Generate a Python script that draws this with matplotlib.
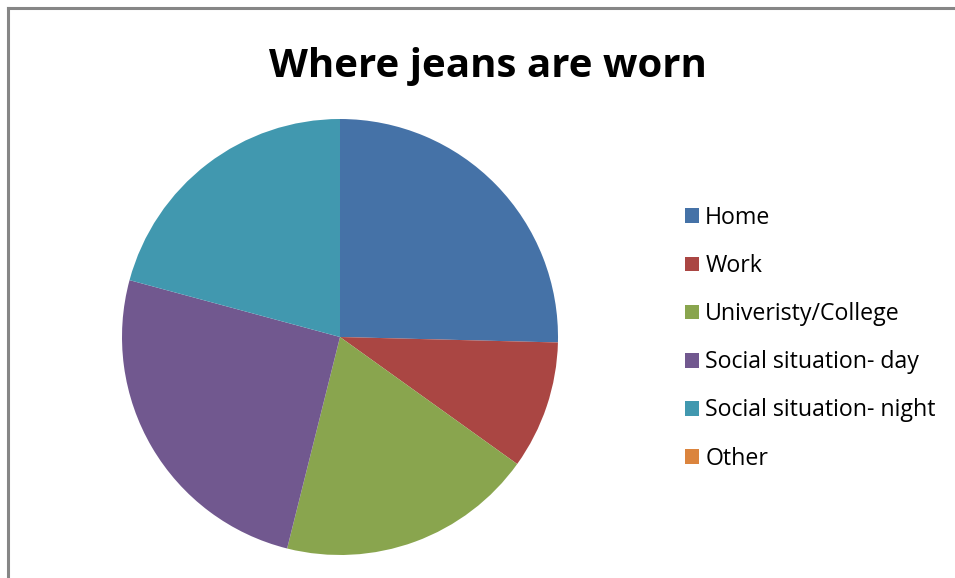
import matplotlib
matplotlib.use("Agg")
import matplotlib.pyplot as plt
from matplotlib.patches import Patch
from matplotlib.lines import Line2D

# Share of respondents by where they wear jeans
categories = ["Home", "Work", "Univeristy/College", "Social situation- day",
              "Social situation- night", "Other"]
shares = [25.4, 9.5, 19.0, 25.3, 20.8, 0.0]
colors = ["#4572A7", "#AA4643", "#89A54E", "#71588F", "#4198AF", "#DB843D"]

W, H = 955, 578
fig = plt.figure(figsize=(W / 100, H / 100), dpi=100)
fig.patch.set_facecolor("white")

# chart-area frame (left and top edges visible)
fig.add_artist(Line2D([7.5 / W, 7.5 / W], [0, 1 - 8 / H], transform=fig.transFigure,
                      color="#868686", lw=2.2))
fig.add_artist(Line2D([7.5 / W, 1], [1 - 8 / H, 1 - 8 / H], transform=fig.transFigure,
                      color="#868686", lw=2.2))

# pie placed by its centre and radius in pixels
cx, cy, r = 340, 337, 218
ax = fig.add_axes([(cx - r) / W, (H - cy - r) / H, 2 * r / W, 2 * r / H])
ax.pie(shares, colors=colors, startangle=90, counterclock=False, radius=1,
       wedgeprops=dict(linewidth=0))
ax.set_xlim(-1, 1)
ax.set_ylim(-1, 1)
ax.set_aspect("equal")
ax.axis("off")

fig.text(488 / W, 1 - 76.5 / H, "Where jeans are worn", ha="center", va="baseline",
         fontsize=29, fontweight="bold", family="Open Sans")

handles = [Patch(facecolor=c, edgecolor="none") for c in colors]
leg = fig.legend(handles, categories, loc="upper left",
                 bbox_to_anchor=(685 / W, 1 - 206 / H),
                 frameon=False, prop=dict(family="Open Sans", size=16.7),
                 handlelength=0.6, handleheight=0.6, handletextpad=0.27,
                 labelspacing=1.04, borderaxespad=0, borderpad=0)

fig.savefig("out.png", dpi=100, facecolor="white")
